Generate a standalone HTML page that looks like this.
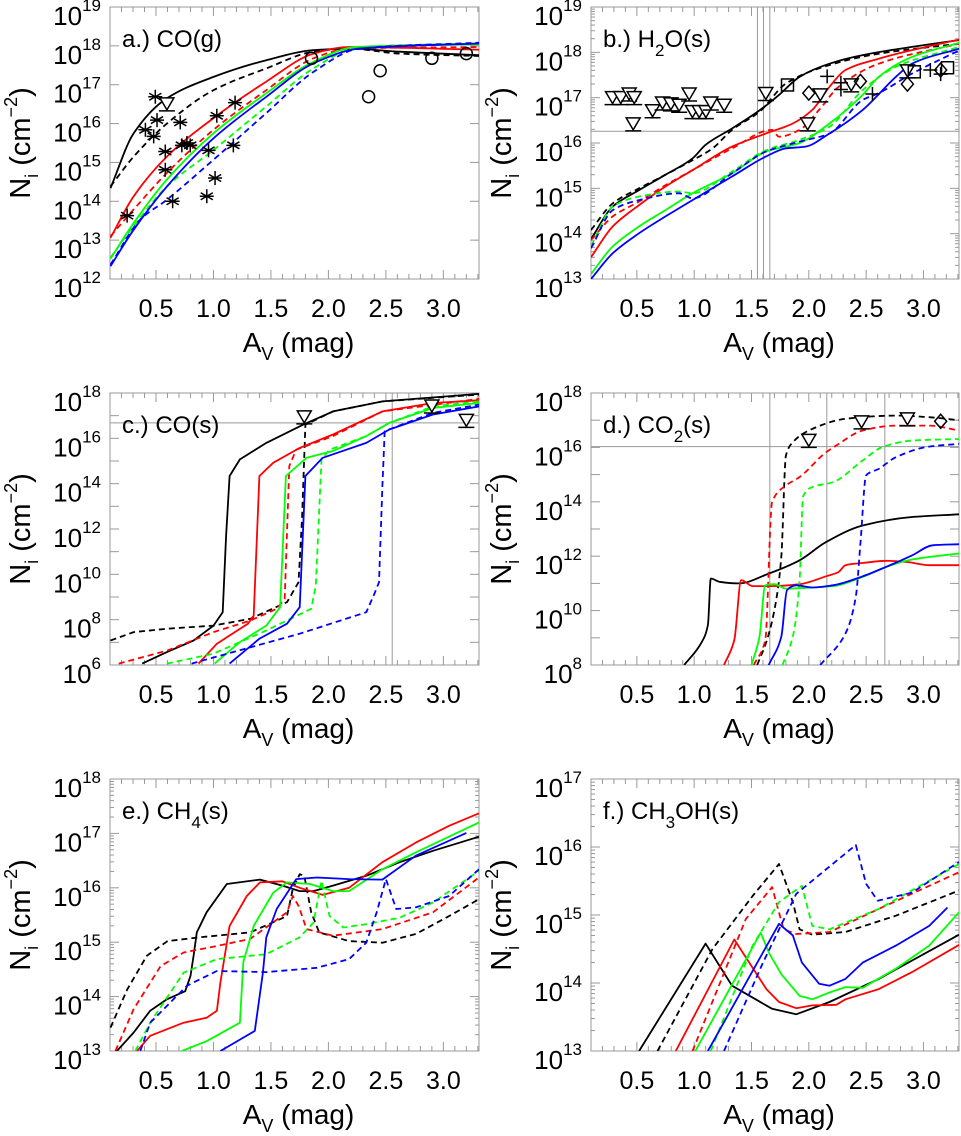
<!DOCTYPE html>
<html><head><meta charset="utf-8"><style>
body{margin:0;background:#fff}
svg{display:block;font-family:"Liberation Sans",sans-serif}
</style></head><body>
<svg id="fig" width="961" height="1136" viewBox="0 0 961 1136" xmlns="http://www.w3.org/2000/svg"></svg>
<script>
// ---------- data: [Av, log10 N] ----------
// panel a CO(g)
const a_k=[[0.104,14.34],[0.306,15.75],[0.595,16.65],[1.0,17.2],[1.46,17.63],[1.87,17.89],[2.18,17.93],[2.62,17.85],[3.31,17.76]];
const a_kd=[[0.104,14.38],[0.306,15.15],[0.595,16.0],[1.0,16.86],[1.46,17.42],[1.87,17.85],[2.18,17.93],[2.62,17.8],[3.31,17.74]];
const a_r=[[0.104,13.06],[0.306,14.13],[0.595,15.15],[1.0,16.14],[1.46,17.08],[1.87,17.8],[2.18,17.97],[3.31,17.9]];
const a_rd=[[0.104,13.1],[0.306,13.79],[0.595,14.73],[1.0,15.84],[1.46,16.86],[1.87,17.68],[2.18,17.93],[3.31,17.97]];
const a_g=[[0.104,12.52],[0.306,13.44],[0.595,14.56],[1.0,15.75],[1.46,16.78],[1.87,17.59],[2.24,17.97],[3.31,18.04]];
const a_gd=[[0.104,12.55],[0.306,13.36],[0.595,14.38],[1.0,15.32],[1.46,16.44],[1.87,17.42],[2.27,17.97],[3.31,18.06]];
const a_b=[[0.104,12.33],[0.306,13.27],[0.595,14.38],[1.0,15.62],[1.46,16.69],[1.87,17.55],[2.27,17.93],[3.31,18.06]];
const a_bd=[[0.104,12.37],[0.364,13.53],[0.595,14.04],[1.0,15.07],[1.46,16.27],[1.87,17.33],[2.27,17.93],[3.31,18.08]];
const a_ast=[[0.249,13.63],[0.494,16.69],[0.509,16.09],[0.408,15.84],[0.48,15.67],[0.581,15.28],[0.581,14.81],[0.645,14.0],[0.711,16.03],[0.725,15.44],[0.769,15.5],[0.798,15.44],[0.957,15.31],[0.942,14.13],[1.014,14.6],[1.029,16.2],[1.173,15.44],[1.188,16.54]];
const a_tri=[[0.595,16.48]];
const a_circ=[[1.853,17.68],[2.35,16.69],[2.45,17.36],[2.9,17.68],[3.2,17.8]];
// panel b H2O(s)
const b_k=[[0.1,13.88],[0.29,14.6],[0.52,14.96],[0.75,15.3],[0.985,15.66],[1.1,15.96],[1.33,16.32],[1.57,16.72],[1.74,17.06],[1.92,17.46],[2.18,17.75],[2.47,17.94],[2.9,18.12],[3.31,18.27]];
const b_kd=[[0.1,14.08],[0.29,14.67],[0.52,15.0],[0.75,15.3],[0.985,15.62],[1.16,15.88],[1.33,16.29],[1.57,16.69],[1.8,17.31],[2.18,17.72],[2.61,17.97],[3.31,18.19]];
const b_r=[[0.1,13.48],[0.29,14.16],[0.52,14.63],[0.75,15.04],[0.985,15.4],[1.33,15.92],[1.625,16.21],[1.86,16.43],[2.03,16.73],[2.18,17.24],[2.32,17.61],[2.61,17.86],[2.9,18.05],[3.31,18.28]];
const b_rd=[[0.1,13.86],[0.29,14.38],[0.52,14.71],[0.75,15.07],[0.985,15.4],[1.33,15.88],[1.68,16.29],[1.74,16.14],[1.92,16.29],[2.09,16.73],[2.26,17.24],[2.61,17.75],[3.31,18.19]];
const b_g=[[0.1,13.11],[0.29,13.72],[0.52,14.16],[0.75,14.52],[0.985,14.89],[1.33,15.33],[1.625,15.81],[1.92,16.0],[2.18,16.43],[2.47,17.06],[2.61,17.46],[2.9,17.9],[3.31,18.21]];
const b_gd=[[0.1,13.72],[0.29,14.6],[0.52,14.82],[0.87,14.93],[0.985,14.89],[1.33,15.37],[1.625,15.84],[1.92,16.07],[2.18,16.36],[2.47,17.17],[2.76,17.68],[3.31,18.12]];
const b_b=[[0.1,13.0],[0.29,13.57],[0.52,14.01],[0.75,14.38],[0.985,14.74],[1.33,15.26],[1.625,15.7],[1.8,15.88],[1.97,15.92],[2.18,16.21],[2.47,16.73],[2.76,17.46],[2.9,17.75],[3.31,18.08]];
const b_bd=[[0.1,13.68],[0.29,14.52],[0.52,14.74],[0.87,14.89],[0.985,14.78],[1.33,15.33],[1.625,15.81],[1.92,16.03],[2.18,16.21],[2.47,16.95],[2.61,17.1],[2.9,17.53],[3.31,18.04]];
const b_tri=[[0.288,16.98],[0.36,16.98],[0.433,17.06],[0.477,16.98],[0.468,16.4],[0.637,16.69],[0.724,16.86],[0.797,16.84],[0.869,16.81],[0.956,17.06],[0.985,16.67],[1.044,16.67],[1.102,16.67],[1.145,16.86],[1.262,16.81],[1.625,17.07],[1.99,16.4],[2.1,17.04],[2.37,17.26],[2.86,17.57]];
const b_sq=[[1.814,17.28],[2.92,17.57],[3.21,17.66]];
const b_dia=[[2.0,17.1],[2.45,17.36],[2.86,17.3],[3.15,17.61]];
const b_plus=[[2.16,17.47],[2.28,17.33],[2.28,17.18],[2.555,17.08],[3.06,17.61],[3.15,17.52]];
const b_vlines=[1.552,1.605,1.66];
const b_hlines=[16.26];
// panel c CO(s)
const c_k=[[0.38,6.06],[0.595,6.57],[0.827,7.08],[1.0,7.74],[1.08,8.33],[1.11,11.7],[1.14,14.34],[1.23,15.07],[1.46,15.8],[1.78,16.6],[2.04,17.19],[2.47,17.63],[3.31,17.96]];
const c_kd=[[0.104,7.08],[0.306,7.45],[0.6,7.6],[1.0,7.74],[1.32,8.04],[1.64,8.77],[1.74,9.65],[1.77,12.43],[1.8,16.6],[2.04,17.19],[2.47,17.63],[3.31,17.93]];
const c_r=[[0.87,6.06],[1.03,6.94],[1.3,7.82],[1.35,8.18],[1.4,14.34],[1.52,14.92],[1.75,15.58],[2.04,16.17],[2.47,17.19],[2.91,17.56],[3.31,17.68]];
const c_rd=[[0.176,6.06],[0.6,6.64],[1.0,7.45],[1.32,7.96],[1.55,8.48],[1.62,8.92],[1.66,14.78],[1.72,15.5],[2.04,16.1],[2.47,17.19],[3.31,17.74]];
const c_g=[[1.01,6.06],[1.23,7.01],[1.46,7.74],[1.58,8.55],[1.63,14.34],[1.81,15.14],[2.04,15.44],[2.33,16.1],[2.53,16.68],[2.91,17.34],[3.31,17.56]];
const c_gd=[[0.595,6.06],[1.0,6.5],[1.46,7.52],[1.85,8.48],[1.89,9.5],[1.94,15.07],[2.01,15.5],[2.33,16.1],[2.53,16.68],[2.91,17.41],[3.31,17.63]];
const c_b=[[1.14,6.06],[1.4,7.16],[1.64,7.82],[1.75,8.55],[1.8,14.34],[1.95,15.14],[2.33,15.8],[2.53,16.39],[2.91,17.05],[3.31,17.41]];
const c_bd=[[0.81,6.06],[1.17,6.57],[1.75,7.38],[2.33,8.33],[2.4,9.14],[2.44,9.65],[2.47,13.9],[2.49,16.32],[2.91,17.12],[3.31,17.49]];
const c_tri=[[1.79,16.9],[2.9,17.38],[3.2,16.75]];
const c_vlines=[2.555];
const c_hlines=[16.68];
// panel d CO2(s)
const d_k=[[0.913,8.0],[1.06,8.8],[1.12,9.47],[1.145,11.18],[1.22,11.06],[1.39,11.0],[1.65,11.36],[1.92,11.85],[2.15,12.52],[2.47,13.13],[2.9,13.44],[3.31,13.54]];
const d_kd=[[1.55,8.0],[1.64,8.98],[1.71,10.26],[1.76,11.97],[1.8,15.7],[1.86,16.19],[2.03,16.68],[2.32,17.05],[2.76,17.17],[3.05,17.11],[3.31,17.0]];
const d_r=[[1.26,8.0],[1.35,8.92],[1.41,11.12],[1.51,10.9],[1.68,10.9],[1.92,10.97],[2.15,11.26],[2.26,11.42],[2.32,11.67],[2.47,11.75],[2.67,11.83],[2.85,11.79],[3.05,11.67],[3.31,11.67]];
const d_rd=[[1.52,8.0],[1.62,8.92],[1.68,13.99],[1.8,14.6],[1.92,14.91],[2.15,15.82],[2.24,16.07],[2.47,16.62],[2.76,16.8],[3.05,16.8],[3.31,16.62]];
const d_g=[[1.5,8.0],[1.57,9.04],[1.62,10.93],[1.7,10.97],[1.8,10.81],[2.03,10.85],[2.21,10.9],[2.47,11.24],[2.67,11.6],[2.9,11.88],[3.31,12.1]];
const d_gd=[[1.77,8.0],[1.86,9.04],[1.92,11.12],[1.95,14.2],[2.03,14.54],[2.21,14.72],[2.47,15.52],[2.64,16.01],[2.9,16.25],[3.31,16.31]];
const d_b=[[1.65,8.0],[1.76,9.04],[1.81,10.75],[1.89,10.93],[2.03,10.85],[2.21,10.93],[2.47,11.26],[2.67,11.6],[2.9,12.03],[3.08,12.4],[3.31,12.44]];
const d_bd=[[2.1,8.0],[2.32,9.16],[2.41,10.51],[2.45,12.46],[2.5,14.97],[2.61,15.21],[2.76,15.64],[3.05,16.03],[3.31,16.13]];
const d_tri=[[2.0,16.22],[2.46,16.9],[2.86,17.01]];
const d_dia=[[3.15,16.96]];
const d_vlines=[1.66,2.157,2.663];
const d_hlines=[16.03];
// panel e CH4(s)
const e_k=[[0.16,13.0],[0.306,13.34],[0.45,13.74],[0.595,13.95],[0.754,14.1],[0.8,14.38],[0.827,14.75],[0.855,15.18],[0.94,15.55],[1.116,16.07],[1.405,16.15],[1.6,16.04],[1.75,15.94],[1.87,15.94],[2.04,16.04],[2.33,16.22],[2.62,16.47],[2.91,16.68],[3.31,16.94]];
const e_kd=[[0.104,13.43],[0.25,14.13],[0.42,14.75],[0.6,15.02],[0.88,15.09],[1.32,15.18],[1.64,15.48],[1.69,15.98],[1.75,16.25],[1.79,16.22],[1.85,15.55],[1.92,15.18],[2.18,15.02],[2.47,14.99],[2.76,15.15],[3.05,15.48],[3.31,15.79]];
const e_r=[[0.335,13.0],[0.45,13.28],[0.74,13.52],[0.94,13.61],[1.03,13.74],[1.06,14.26],[1.14,15.3],[1.29,15.85],[1.405,16.1],[1.6,16.12],[1.75,16.0],[1.95,15.87],[2.18,16.0],[2.47,16.47],[2.76,16.83],[3.05,17.14],[3.31,17.37]];
const e_rd=[[0.147,13.0],[0.306,13.77],[0.54,14.56],[0.74,14.81],[1.03,14.93],[1.32,15.06],[1.64,15.55],[1.69,15.85],[1.74,15.67],[1.81,15.24],[2.04,15.12],[2.47,15.24],[2.91,15.55],[3.31,16.19]];
const e_g=[[0.725,13.0],[0.94,13.18],[1.23,13.52],[1.26,14.63],[1.35,15.3],[1.52,15.91],[1.64,16.1],[1.84,16.07],[2.04,15.94],[2.18,15.94],[2.47,16.34],[2.76,16.65],[3.31,17.2]];
const e_gd=[[0.32,13.0],[0.45,13.52],[0.74,14.44],[1.03,14.69],[1.46,14.78],[1.75,15.09],[1.87,15.36],[1.94,16.13],[2.01,15.48],[2.13,15.27],[2.33,15.33],[2.62,15.45],[2.91,15.73],[3.31,16.31]];
const e_b=[[1.06,13.0],[1.23,13.21],[1.36,13.37],[1.43,14.44],[1.46,15.09],[1.55,15.61],[1.72,16.16],[1.9,16.19],[2.18,16.16],[2.47,16.15],[2.76,16.59],[3.2,17.01]];
const e_bd=[[0.364,13.0],[0.45,13.52],[0.77,14.2],[1.03,14.47],[1.46,14.45],[1.9,14.53],[2.18,14.69],[2.33,14.99],[2.42,15.55],[2.5,16.16],[2.59,15.61],[2.76,15.64],[3.05,15.85],[3.31,16.34]];
// panel f CH3OH(s)
const f_k=[[0.52,13.0],[1.1,14.58],[1.33,13.96],[1.68,13.62],[1.89,13.54],[2.18,13.72],[2.61,14.06],[3.31,14.71]];
const f_kd=[[0.68,13.0],[1.16,14.5],[1.51,15.28],[1.74,15.75],[1.86,15.19],[1.92,14.79],[2.03,14.71],[2.32,14.75],[2.76,14.99],[3.31,15.36]];
const f_r=[[0.84,13.0],[1.35,14.64],[1.63,13.91],[1.74,13.72],[1.89,13.63],[2.03,13.67],[2.24,13.68],[2.32,13.76],[2.61,13.91],[2.9,14.16],[3.31,14.56]];
const f_rd=[[0.985,13.0],[1.45,14.94],[1.68,15.41],[1.78,14.79],[1.89,14.72],[2.18,14.75],[2.61,15.09],[3.31,15.63]];
const f_g=[[1.01,13.0],[1.58,14.74],[1.65,14.45],[1.76,14.13],[1.92,13.81],[2.03,13.76],[2.18,13.86],[2.32,13.94],[2.47,13.93],[2.76,14.21],[3.05,14.55],[3.31,15.04]];
const f_gd=[[1.145,13.0],[1.51,14.55],[1.74,15.19],[1.94,15.43],[2.03,14.84],[2.18,14.79],[2.61,15.09],[3.31,15.75]];
const f_b=[[1.12,13.0],[1.74,14.87],[1.86,14.7],[1.94,14.3],[2.09,13.99],[2.18,13.96],[2.32,14.06],[2.47,14.3],[2.76,14.55],[3.05,14.84],[3.21,15.11]];
const f_bd=[[1.26,13.0],[1.6,14.3],[1.89,15.31],[2.41,16.03],[2.5,15.46],[2.6,15.21],[2.9,15.33],[3.31,15.78]];
const xTicks=[0.5,1.0,1.5,2.0,2.5,3.0];
const xTickLabels=["0.5","1.0","1.5","2.0","2.5","3.0"];

// ---------- drawing ----------
const NS="http://www.w3.org/2000/svg";
const svg=document.getElementById('fig');
function mk(tag,attrs,parent){const e=document.createElementNS(NS,tag);for(const k in attrs)e.setAttribute(k,attrs[k]);(parent||svg).appendChild(e);return e;}
const COL={k:'#000000',r:'#ff0000',g:'#00ff00',b:'#0000ff'};
const XMIN=0.1,XMAX=3.31;

function linePath(P){return P.map((q,i)=>(i?'L':'M')+q[0].toFixed(1)+' '+q[1].toFixed(1)).join(' ');}
function smoothPath(P){
  const n=P.length;if(n<3)return linePath(P);
  const dx=[],dy=[],m=[],t=[];
  for(let i=0;i<n-1;i++){dx[i]=P[i+1][0]-P[i][0];dy[i]=P[i+1][1]-P[i][1];m[i]=dx[i]?dy[i]/dx[i]:0;}
  t[0]=m[0];t[n-1]=m[n-2];
  for(let i=1;i<n-1;i++){if(m[i-1]*m[i]<=0)t[i]=0;else{const w1=2*dx[i]+dx[i-1],w2=dx[i]+2*dx[i-1];t[i]=(w1+w2)/(w1/m[i-1]+w2/m[i]);}}
  let d='M'+P[0][0].toFixed(1)+' '+P[0][1].toFixed(1);
  for(let i=0;i<n-1;i++){const h=dx[i]/3;
    d+=`C${(P[i][0]+h).toFixed(1)} ${(P[i][1]+t[i]*h).toFixed(1)} ${(P[i+1][0]-h).toFixed(1)} ${(P[i+1][1]-t[i+1]*h).toFixed(1)} ${P[i+1][0].toFixed(1)} ${P[i+1][1].toFixed(1)}`;}
  return d;
}

function panel(p){
  const g=mk('g',{});
  
  
  const L=p.x0,R=p.x1,T=p.y0,B=p.y1;
  const sx=v=>L+(v-XMIN)/(XMAX-XMIN)*(R-L);
  const sy=v=>T+(p.ymax-v)/(p.ymax-p.ymin)*(B-T);
  const cp=mk('clipPath',{id:'cp'+p.id},g);
  mk('rect',{x:L,y:T,width:R-L,height:B-T},cp);
  (p.vl||[]).forEach(v=>{const l=mk('line',{x1:sx(v),x2:sx(v),y1:T,y2:B,stroke:'#999',"stroke-width":1},g);});
  (p.hl||[]).forEach(v=>{const l=mk('line',{x1:L,x2:R,y1:sy(v),y2:sy(v),stroke:'#999',"stroke-width":1},g);});
  const fr=mk('rect',{x:L,y:T,width:R-L,height:B-T,fill:'none',stroke:'#999',"stroke-width":1},g);
  
  
  for(let i=1;i<=33;i++){const v=i/10;if(v<XMIN-1e-6||v>XMAX)continue;const major=(i%5===0);const len=major?9:5;const x=sx(v);
    mk('line',{x1:x,x2:x,y1:B,y2:B-len,stroke:'#999',"stroke-width":1},g);mk('line',{x1:x,x2:x,y1:T,y2:T+len,stroke:'#999',"stroke-width":1},g);}
  xTicks.forEach((v,i)=>{const t=mk('text',{x:sx(v),y:B+38,"font-size":25,"text-anchor":"middle",fill:'#000'},g);t.textContent=xTickLabels[i];});
  for(let d=p.ymin;d<=p.ymax;d++){const y=sy(d);
    mk('line',{x1:L,x2:L+9,y1:y,y2:y,stroke:'#999',"stroke-width":1},g);mk('line',{x1:R,x2:R-9,y1:y,y2:y,stroke:'#999',"stroke-width":1},g);
    if(p.minor){for(let m=2;m<10;m++){const yy=sy(d+Math.log10(m));if(d+Math.log10(m)>p.ymax)break;mk('line',{x1:L,x2:L+4,y1:yy,y2:yy,stroke:'#999',"stroke-width":1},g);mk('line',{x1:R,x2:R-4,y1:yy,y2:yy,stroke:'#999',"stroke-width":1},g);}}
    if((d-p.ymin)%p.lstep===0){const t=mk('text',{x:L-9,y:y+18,"font-size":26,"text-anchor":"end",fill:'#000'},g);
      
      const a=mk('tspan',{},t);a.textContent='10';const b=mk('tspan',{"font-size":17,dy:-14},t);b.textContent=String(d);}
  }
  const cg=mk('g',{"clip-path":'url(#cp'+p.id+')'},g);
  p.series.forEach(s=>{
    const pts=s.data.map(q=>[sx(q[0]),sy(q[1])]);
    const d=p.smooth?smoothPath(pts):linePath(pts);
    const path=mk('path',{d:d,fill:'none',stroke:COL[s.c],"stroke-width":1.8,"stroke-dasharray":s.dash?'6 4':'none',"stroke-linejoin":"round"},cg);
    
    
  });
  const mg=mk('g',{stroke:'#000',"stroke-width":1.5,fill:'none'},g);
  (p.ast||[]).forEach(q=>{const x=sx(q[0]),y=sy(q[1]);const r=7;let d='';for(let k=0;k<3;k++){const an=Math.PI/2+k*Math.PI/3;d+=`M${x+r*Math.cos(an)} ${y+r*Math.sin(an)}L${x-r*Math.cos(an)} ${y-r*Math.sin(an)}`;}d+=`M${x-r} ${y}L${x+r} ${y}`;const m=mk('path',{d:d},mg);});
  (p.tri||[]).forEach(q=>{const x=sx(q[0]),y=sy(q[1]);const m=mk('path',{d:`M${x-7} ${y-7}L${x+7} ${y-7}L${x} ${y+5}Z M${x-8} ${y+6}L${x+8} ${y+6}`,fill:'#fff'},mg);});
  (p.circ||[]).forEach(q=>{const m=mk('circle',{cx:sx(q[0]),cy:sy(q[1]),r:6},mg);});
  (p.sq||[]).forEach(q=>{const m=mk('rect',{x:sx(q[0])-6,y:sy(q[1])-6,width:12,height:12},mg);});
  (p.dia||[]).forEach(q=>{const x=sx(q[0]),y=sy(q[1]);const m=mk('path',{d:`M${x} ${y-7}L${x+6} ${y}L${x} ${y+7}L${x-6} ${y}Z`},mg);});
  (p.plus||[]).forEach(q=>{const x=sx(q[0]),y=sy(q[1]);const m=mk('path',{d:`M${x-7} ${y}L${x+7} ${y}M${x} ${y-7}L${x} ${y+7}`},mg);});
  const lt=mk('text',{x:L+12,y:T+40,"font-size":24,fill:'#000'},g);
  
  
  p.label.forEach(seg=>{const ts=mk('tspan',seg.sub?{"font-size":17,dy:9}:(seg.after?{dy:-9}:{}),lt);ts.textContent=seg.t;});
  const xt=mk('text',{x:(L+R)/2+4,y:B+73,"font-size":28,"text-anchor":"middle",fill:'#000'},g);
  
  
  let s1=mk('tspan',{},xt);s1.textContent='A';s1=mk('tspan',{"font-size":18,dy:8},xt);s1.textContent='V';s1=mk('tspan',{dy:-8},xt);s1.textContent=' (mag)';
  const yc=(T+B)/2,xc=L-80;
  const yt=mk('text',{x:xc,y:yc,"font-size":29,"text-anchor":"middle",fill:'#000',transform:`rotate(-90 ${xc} ${yc})`},g);
  
  
  s1=mk('tspan',{},yt);s1.textContent='N';s1=mk('tspan',{"font-size":18,dy:8},yt);s1.textContent='i';s1=mk('tspan',{dy:-8},yt);s1.textContent=' (cm';s1=mk('tspan',{"font-size":18,dy:-13},yt);s1.textContent='−2';s1=mk('tspan',{dy:13},yt);s1.textContent=')';
}
function S(k,kd,r,rd,g,gd,b,bd){return [{c:'k',data:k,name:'black-solid'},{c:'k',data:kd,dash:1,name:'black-dashed'},{c:'r',data:r,name:'red-solid'},{c:'r',data:rd,dash:1,name:'red-dashed'},{c:'g',data:g,name:'green-solid'},{c:'g',data:gd,dash:1,name:'green-dashed'},{c:'b',data:b,name:'blue-solid'},{c:'b',data:bd,dash:1,name:'blue-dashed'}];}
const LC=[110,479],RC=[591,959];
panel({id:'a',smooth:1,x0:LC[0],x1:LC[1],y0:7,y1:279,ymin:12,ymax:19,lstep:1,label:[{t:'a.)  CO(g)'}],series:S(a_k,a_kd,a_r,a_rd,a_g,a_gd,a_b,a_bd),ast:a_ast,tri:a_tri,circ:a_circ});
panel({id:'b',smooth:1,x0:RC[0],x1:RC[1],y0:7,y1:279,ymin:13,ymax:19,lstep:1,minor:1,label:[{t:'b.)  H'},{t:'2',sub:1},{t:'O(s)',after:1}],series:S(b_k,b_kd,b_r,b_rd,b_g,b_gd,b_b,b_bd),tri:b_tri,sq:b_sq,dia:b_dia,plus:b_plus,vl:b_vlines,hl:b_hlines});
panel({id:'c',x0:LC[0],x1:LC[1],y0:393,y1:665,ymin:6,ymax:18,lstep:2,label:[{t:'c.)  CO(s)'}],series:S(c_k,c_kd,c_r,c_rd,c_g,c_gd,c_b,c_bd),tri:c_tri,vl:c_vlines,hl:c_hlines});
panel({id:'d',smooth:1,x0:RC[0],x1:RC[1],y0:393,y1:665,ymin:8,ymax:18,lstep:2,label:[{t:'d.)  CO'},{t:'2',sub:1},{t:'(s)',after:1}],series:S(d_k,d_kd,d_r,d_rd,d_g,d_gd,d_b,d_bd),tri:d_tri,dia:d_dia,vl:d_vlines,hl:d_hlines});
panel({id:'e',x0:LC[0],x1:LC[1],y0:779,y1:1051,ymin:13,ymax:18,lstep:1,minor:1,label:[{t:'e.)  CH'},{t:'4',sub:1},{t:'(s)',after:1}],series:S(e_k,e_kd,e_r,e_rd,e_g,e_gd,e_b,e_bd)});
panel({id:'f',x0:RC[0],x1:RC[1],y0:779,y1:1051,ymin:13,ymax:17,lstep:1,minor:1,label:[{t:'f.)  CH'},{t:'3',sub:1},{t:'OH(s)',after:1}],series:S(f_k,f_kd,f_r,f_rd,f_g,f_gd,f_b,f_bd)});
</script>
</body></html>
